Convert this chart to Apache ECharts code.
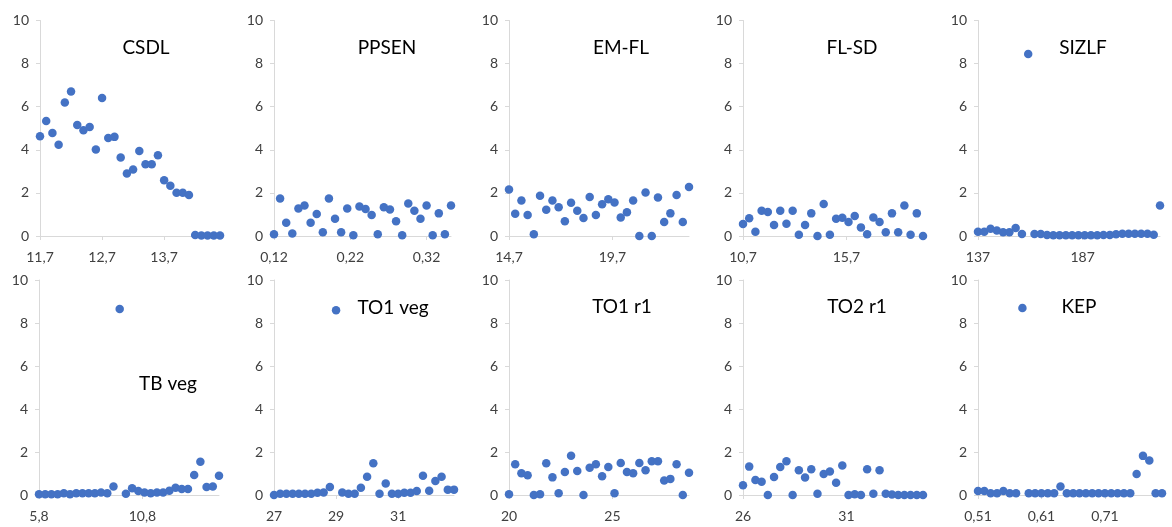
<!DOCTYPE html>
<html>
<head>
<meta charset="utf-8">
<script src="https://cdn.jsdelivr.net/npm/echarts@6/dist/echarts.min.js"></script>
<style>
  html, body { margin: 0; padding: 0; background: #fff; }
  #chart { width: 1172px; height: 527px; }
</style>
</head>
<body>
<div id="chart"></div>
<script>
// panel names, in reading order
const panelNames = ['CSDL', 'PPSEN', 'EM-FL', 'FL-SD', 'SIZLF', 'TB veg', 'TO1 veg', 'TO1 r1', 'TO2 r1', 'KEP']

const csdlX = [11.7, 11.8, 11.9, 12.0, 12.1, 12.2, 12.3, 12.4, 12.5, 12.6, 12.7, 12.8, 12.9, 13.0, 13.1, 13.2, 13.3, 13.4, 13.5, 13.6, 13.7, 13.8, 13.9, 14.0, 14.1, 14.2, 14.3, 14.4, 14.5, 14.6]
const csdlY = [4.63, 5.34, 4.78, 4.23, 6.19, 6.71, 5.15, 4.91, 5.06, 4.01, 6.40, 4.55, 4.60, 3.64, 2.90, 3.09, 3.94, 3.33, 3.33, 3.75, 2.59, 2.33, 2.01, 2.01, 1.90, 0.05, 0.02, 0.02, 0.02, 0.02]

const ppsenX = [0.120, 0.128, 0.136, 0.144, 0.152, 0.160, 0.168, 0.176, 0.184, 0.192, 0.200, 0.208, 0.216, 0.224, 0.232, 0.240, 0.248, 0.256, 0.264, 0.272, 0.280, 0.288, 0.296, 0.304, 0.312, 0.320, 0.328, 0.336, 0.344, 0.352]
const ppsenY = [0.08, 1.74, 0.62, 0.12, 1.28, 1.42, 0.62, 1.02, 0.17, 1.74, 0.80, 0.17, 1.28, 0.03, 1.37, 1.25, 0.97, 0.08, 1.33, 1.23, 0.68, 0.03, 1.51, 1.17, 0.80, 1.42, 0.03, 1.05, 0.08, 1.42]

const emflX = [14.7, 15.0, 15.3, 15.6, 15.9, 16.2, 16.5, 16.8, 17.1, 17.4, 17.7, 18.0, 18.3, 18.6, 18.9, 19.2, 19.5, 19.8, 20.1, 20.4, 20.7, 21.0, 21.3, 21.6, 21.9, 22.2, 22.5, 22.8, 23.1, 23.4]
const emflY = [2.16, 1.03, 1.65, 0.97, 0.08, 1.87, 1.22, 1.65, 1.33, 0.68, 1.54, 1.17, 0.83, 1.81, 0.97, 1.47, 1.70, 1.56, 0.86, 1.10, 1.65, 0.00, 2.02, 0.00, 1.79, 0.65, 1.05, 1.90, 0.65, 2.27]

const flsdX = [10.7, 11.0, 11.3, 11.6, 11.9, 12.2, 12.5, 12.8, 13.1, 13.4, 13.7, 14.0, 14.3, 14.6, 14.9, 15.2, 15.5, 15.8, 16.1, 16.4, 16.7, 17.0, 17.3, 17.6, 17.9, 18.2, 18.5, 18.8, 19.1, 19.4]
const flsdY = [0.56, 0.82, 0.20, 1.17, 1.11, 0.51, 1.17, 0.57, 1.17, 0.06, 0.51, 1.05, 0.00, 1.48, 0.06, 0.80, 0.85, 0.65, 0.93, 0.40, 0.08, 0.86, 0.65, 0.17, 1.05, 0.17, 1.42, 0.06, 1.05, 0.00]

const sizlfX = [137, 140, 143, 146, 149, 152, 155, 158, 161, 164, 167, 170, 173, 176, 179, 182, 185, 188, 191, 194, 197, 200, 203, 206, 209, 212, 215, 218, 221, 224]
const sizlfY = [0.20, 0.20, 0.34, 0.25, 0.17, 0.17, 0.37, 0.09, 8.45, 0.09, 0.09, 0.05, 0.03, 0.03, 0.03, 0.03, 0.03, 0.03, 0.03, 0.03, 0.05, 0.05, 0.08, 0.10, 0.10, 0.10, 0.10, 0.10, 0.06, 1.42]

const tbvegX = [5.8, 6.1, 6.4, 6.7, 7.0, 7.3, 7.6, 7.9, 8.2, 8.5, 8.8, 9.1, 9.4, 9.7, 10.0, 10.3, 10.6, 10.9, 11.2, 11.5, 11.8, 12.1, 12.4, 12.7, 13.0, 13.3, 13.6, 13.9, 14.2, 14.5]
const tbvegY = [0.03, 0.03, 0.03, 0.03, 0.08, 0.03, 0.08, 0.08, 0.08, 0.08, 0.12, 0.08, 0.40, 8.65, 0.06, 0.31, 0.19, 0.12, 0.08, 0.12, 0.12, 0.20, 0.34, 0.28, 0.28, 0.93, 1.55, 0.37, 0.40, 0.89]

const to1vegX = [27.0, 27.2, 27.4, 27.6, 27.8, 28.0, 28.2, 28.4, 28.6, 28.8, 29.0, 29.2, 29.4, 29.6, 29.8, 30.0, 30.2, 30.4, 30.6, 30.8, 31.0, 31.2, 31.4, 31.6, 31.8, 32.0, 32.2, 32.4, 32.6, 32.8]
const to1vegY = [0.00, 0.06, 0.06, 0.06, 0.06, 0.06, 0.06, 0.10, 0.12, 0.37, 8.59, 0.12, 0.06, 0.06, 0.34, 0.85, 1.48, 0.06, 0.53, 0.06, 0.06, 0.10, 0.10, 0.19, 0.89, 0.20, 0.65, 0.85, 0.25, 0.25]

const to1r1X = [20.0, 20.3, 20.6, 20.9, 21.2, 21.5, 21.8, 22.1, 22.4, 22.7, 23.0, 23.3, 23.6, 23.9, 24.2, 24.5, 24.8, 25.1, 25.4, 25.7, 26.0, 26.3, 26.6, 26.9, 27.2, 27.5, 27.8, 28.1, 28.4, 28.7]
const to1r1Y = [0.03, 1.43, 1.01, 0.92, 0.00, 0.03, 1.48, 0.82, 0.08, 1.07, 1.83, 1.12, 0.00, 1.27, 1.43, 0.87, 1.30, 0.08, 1.49, 1.07, 1.01, 1.49, 1.15, 1.57, 1.57, 0.67, 0.75, 1.43, 0.00, 1.04]

const to2r1X = [26.0, 26.3, 26.6, 26.9, 27.2, 27.5, 27.8, 28.1, 28.4, 28.7, 29.0, 29.3, 29.6, 29.9, 30.2, 30.5, 30.8, 31.1, 31.4, 31.7, 32.0, 32.3, 32.6, 32.9, 33.2, 33.5, 33.8, 34.1, 34.4, 34.7]
const to2r1Y = [0.45, 1.32, 0.70, 0.62, 0.00, 0.84, 1.30, 1.57, 0.00, 1.15, 0.81, 1.20, 0.06, 0.98, 1.09, 0.57, 1.37, 0.00, 0.03, 0.00, 1.20, 0.06, 1.15, 0.06, 0.02, 0.00, 0.00, 0.00, 0.00, 0.00]

const kepX = [0.51, 0.52, 0.53, 0.54, 0.55, 0.56, 0.57, 0.58, 0.59, 0.60, 0.61, 0.62, 0.63, 0.64, 0.65, 0.66, 0.67, 0.68, 0.69, 0.70, 0.71, 0.72, 0.73, 0.74, 0.75, 0.76, 0.77, 0.78, 0.79, 0.80]
const kepY = [0.19, 0.19, 0.08, 0.08, 0.19, 0.08, 0.08, 8.70, 0.08, 0.08, 0.08, 0.08, 0.08, 0.39, 0.08, 0.08, 0.08, 0.08, 0.08, 0.08, 0.08, 0.08, 0.08, 0.08, 0.08, 0.98, 1.82, 1.60, 0.08, 0.08]

// x tick step for each panel (ticks are counted from the first x value)
const xIntervals = [1, 0.1, 5, 5, 50, 5, 2, 5, 5, 0.1]
const yTicks = [0, 2, 4, 6, 8, 10]

const xs = [csdlX, ppsenX, emflX, flsdX, sizlfX, tbvegX, to1vegX, to1r1X, to2r1X, kepX]
const ys = [csdlY, ppsenY, emflY, flsdY, sizlfY, tbvegY, to1vegY, to1r1Y, to2r1Y, kepY]

// layout of the 2 x 5 panels
const gridLeft = [40, 274, 509, 743, 978, 39, 274, 509, 743, 978]
const gridWidth = [180, 177, 180, 180, 182, 180, 180, 180, 180, 184]
const gridTop = [20.5, 280]
const gridHeight = [215.5, 215]
const titlePos = [[141, 45], [382, 45], [616, 45], [847, 45], [1078, 45], [163, 381], [388, 305], [617, 304], [852, 304], [1074, 304]]

const FONT = 'Lato, "Open Sans", sans-serif'
const axisColor = '#d9d9d9'
const labelColor = '#404040'

const fmt = v => String(+(+v).toFixed(4)).replace('.', ',')

const chart = echarts.init(document.getElementById('chart'), null, { renderer: 'canvas' })

const grids = [], xAxes = [], yAxes = [], series = [], titles = []
panelNames.forEach((name, i) => {
  const row = i < 5 ? 0 : 1
  grids.push({ left: gridLeft[i], top: gridTop[row], width: gridWidth[i], height: gridHeight[row] })
  xAxes.push({
    type: 'value',
    gridIndex: i,
    min: xs[i][0],
    max: xs[i][xs[i].length - 1],
    interval: xIntervals[i],
    axisLine: { show: true, onZero: false, lineStyle: { color: axisColor, width: 1 } },
    axisTick: { show: true, length: 4, lineStyle: { color: axisColor } },
    axisLabel: { color: labelColor, fontFamily: FONT, fontSize: 14, margin: 14, showMaxLabel: false, formatter: fmt },
    splitLine: { show: false },
  })
  yAxes.push({
    type: 'value',
    gridIndex: i,
    min: yTicks[0],
    max: yTicks[yTicks.length - 1],
    interval: 2,
    axisLine: { show: true, lineStyle: { color: axisColor, width: 1 } },
    axisTick: { show: true, length: 4, lineStyle: { color: axisColor } },
    axisLabel: { color: labelColor, fontFamily: FONT, fontSize: 14, margin: 11 },
    splitLine: { show: false },
  })
  series.push({
    name,
    type: 'scatter',
    xAxisIndex: i,
    yAxisIndex: i,
    symbol: 'circle',
    symbolSize: 8.5,
    itemStyle: { color: '#4472c4', opacity: 1 },
    data: xs[i].map((x, k) => [x, ys[i][k]]),
  })
  titles.push({
    text: name,
    left: titlePos[i][0],
    top: titlePos[i][1] - 12,
    textAlign: 'center',
    textStyle: { fontFamily: FONT, fontSize: 19, fontWeight: 'normal', color: '#000' },
  })
})

chart.setOption({
  animation: false,
  title: titles,
  grid: grids,
  xAxis: xAxes,
  yAxis: yAxes,
  series,
})

window.addEventListener('resize', () => chart.resize())
</script>
</body>
</html>
